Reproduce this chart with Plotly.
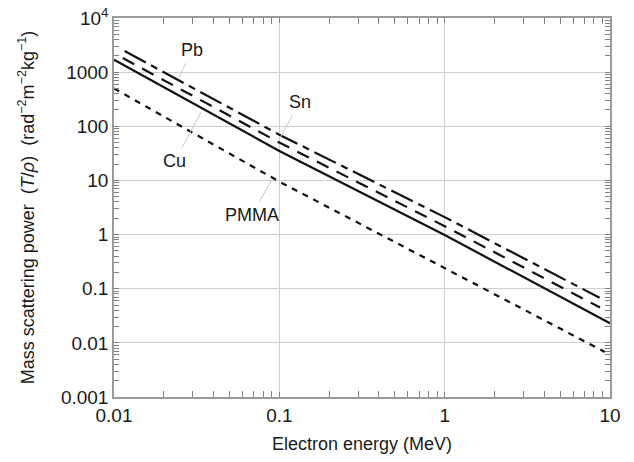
import numpy as np
import plotly.graph_objects as go

# Mass scattering power of electrons in four materials (log-log)
pb_energy = [0.0116, 0.1, 1.0, 8.65]
pb_power = [2450, 70, 2.1, 0.068]

sn_energy = [0.0113, 0.1, 1.0, 8.7]
sn_power = [1820, 50, 1.43, 0.045]

cu_energy = [0.01, 0.1, 1.0, 10.0]
cu_power = [1700, 35, 0.98, 0.023]

pmma_energy = [0.01, 0.1, 1.0, 9.3]
pmma_power = [500, 9.5, 0.24, 0.0068]

# tick label that replaces plotly's default "10k" on the top decade
y_label_alias = {"10k": "10<sup>4</sup>"}

FONT = "Liberation Sans, Arial, sans-serif"
INK = "#1a1a1a"
FRAME = "#9a9a9a"
TICK = "#808080"
X_RANGE = [-2, 1]   # log10 of energy
Y_RANGE = [-3, 4]   # log10 of mass scattering power

series = [
    ("Pb", pb_energy, pb_power, "24px,6px,7px,6px"),
    ("Sn", sn_energy, sn_power, "13px,9px"),
    ("Cu", cu_energy, cu_power, "solid"),
    ("PMMA", pmma_energy, pmma_power, "6px,6px"),
]

fig = go.Figure()
for name, xe, yp, dash in series:
    fig.add_trace(go.Scatter(
        x=xe, y=yp, mode="lines", name=name,
        line=dict(color="#111111", width=2.2, dash=dash),
        showlegend=False,
    ))


def curve_log_y(xe, yp, e):
    # position on a curve (log-log), used to anchor the label leaders
    return float(np.interp(np.log10(e), np.log10(xe), np.log10(yp)))


# label, energy where the leader touches the curve, text offset (px)
labels = [
    ("Pb", pb_energy, pb_power, 0.0244, 14, -30),
    ("Sn", sn_energy, sn_power, 0.098, 22, -40),
    ("Cu", cu_energy, cu_power, 0.0345, -28, 52),
    ("PMMA", pmma_energy, pmma_power, 0.0914, -21, 37),
]
for text, xe, yp, e, ax, ay in labels:
    fig.add_annotation(
        x=np.log10(e), y=curve_log_y(xe, yp, e), xref="x", yref="y",
        text=text, showarrow=True, arrowhead=0, arrowwidth=1,
        arrowcolor="#c8c8c8", ax=ax, ay=ay, standoff=3, startstandoff=2,
        font=dict(family=FONT, size=18, color=INK),
    )

axis_common = dict(
    type="log",
    tickmode="linear", tick0=0, dtick=1,
    showgrid=True, gridcolor="#cfcfcf", gridwidth=1.2,
    showline=True, linecolor=FRAME, linewidth=1.5, mirror="ticks",
    ticks="inside", ticklen=5, tickwidth=1, tickcolor=TICK,
    tickfont=dict(family=FONT, size=19, color=INK),
    zeroline=False,
)

fig.update_layout(
    xaxis=dict(
        **axis_common,
        range=X_RANGE,
        minor=dict(ticks="inside", dtick="D1", ticklen=6, tickwidth=1.2,
                   tickcolor=TICK, showgrid=False),
        title=dict(text="Electron energy (MeV)", standoff=13,
                   font=dict(family=FONT, size=18, color=INK)),
    ),
    yaxis=dict(
        **axis_common,
        range=Y_RANGE,
        labelalias=y_label_alias,
        minor=dict(ticks="inside", dtick="D1", ticklen=5, tickwidth=1.2,
                   tickcolor=TICK, showgrid=False),
        title=dict(
            text="Mass scattering power\u00a0\u00a0(<i>T</i>/<i>\u03c1</i>)\u00a0\u00a0"
                 "(rad<sup>\u22122</sup>m<sup>\u22122</sup>kg<sup>\u22121</sup>)",
            standoff=22, font=dict(family=FONT, size=18, color=INK)),
    ),
    width=634, height=462,
    margin=dict(l=114, r=24, t=18, b=65, autoexpand=False),
    plot_bgcolor="white", paper_bgcolor="white",
    font=dict(family=FONT, color=INK),
)

fig.write_html("out.html")
